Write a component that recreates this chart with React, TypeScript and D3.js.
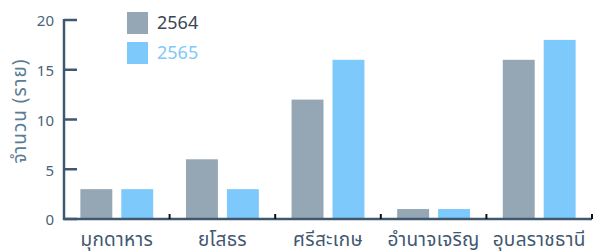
import React, { useEffect, useRef } from 'react';
import * as d3 from 'd3';

const provinces = ['มุกดาหาร', 'ยโสธร', 'ศรีสะเกษ', 'อำนาจเจริญ', 'อุบลราชธานี'];
const years = ['2564', '2565'];
const cases2564 = [3, 6, 12, 1, 16];
const cases2565 = [3, 3, 16, 1, 18];
const yTicks = [0, 5, 10, 15, 20];

const colors = ['#95a6b4', '#7ec9fb'];
const axisColor = '#3f5870';

const App = () => {
  const svgRef = useRef<SVGSVGElement>(null);

  const width = 595;
  const height = 251;
  const margin = { top: 20, right: 3, bottom: 32, left: 64 };

  useEffect(() => {
    const svg = d3.select(svgRef.current);
    svg.selectAll('*').remove();

    const font = '"Noto Sans", "Noto Sans Thai", Roboto, sans-serif';
    const series = [cases2564, cases2565];

    const x0 = d3.scaleBand()
      .domain(provinces)
      .range([margin.left, width - margin.right])
      .paddingInner(0)
      .paddingOuter(0);

    const x1 = d3.scaleBand()
      .domain(years)
      .range([0, x0.bandwidth()])
      .paddingInner(0.22)
      .paddingOuter(0.4);

    const y = d3.scaleLinear()
      .domain([0, 20])
      .range([height - margin.bottom, margin.top]);

    // bars
    provinces.forEach((p, i) => {
      years.forEach((yr, j) => {
        const v = series[j][i];
        svg.append('rect')
          .attr('x', x0(p)! + x1(yr)!)
          .attr('y', y(v))
          .attr('width', x1.bandwidth())
          .attr('height', y(0) - y(v))
          .attr('fill', colors[j]);
      });
    });

    // x axis line
    svg.append('line')
      .attr('x1', margin.left - 1)
      .attr('x2', width - margin.right)
      .attr('y1', y(0))
      .attr('y2', y(0))
      .attr('stroke', axisColor)
      .attr('stroke-width', 2.5);

    // small ticks between categories
    provinces.forEach((p) => {
      const xx = x0(p)! + x0.bandwidth();
      svg.append('line')
        .attr('x1', xx)
        .attr('x2', xx)
        .attr('y1', y(0))
        .attr('y2', y(0) - 5)
        .attr('stroke', '#111')
        .attr('stroke-width', 2);
    });

    // x labels
    svg.append('g')
      .selectAll('text')
      .data(provinces)
      .enter().append('text')
      .attr('x', (d) => x0(d)! + x0.bandwidth() / 2)
      .attr('y', height - 5)
      .attr('text-anchor', 'middle')
      .attr('font-family', font)
      .attr('font-size', 19)
      .attr('letter-spacing', 0.3)
      .attr('fill', axisColor)
      .text((d) => d);

    // y axis
    svg.append('line')
      .attr('x1', margin.left)
      .attr('x2', margin.left)
      .attr('y1', y(20) - 1)
      .attr('y2', y(0) + 1)
      .attr('stroke', axisColor)
      .attr('stroke-width', 2.5);

    yTicks.forEach((t) => {
      svg.append('line')
        .attr('x1', margin.left)
        .attr('x2', margin.left + 13)
        .attr('y1', y(t))
        .attr('y2', y(t))
        .attr('stroke', axisColor)
        .attr('stroke-width', 2.5);
      svg.append('text')
        .attr('x', margin.left - 10)
        .attr('y', y(t) + 1)
        .attr('dy', '0.35em')
        .attr('text-anchor', 'end')
        .attr('font-family', font)
        .attr('font-size', 15)
        .attr('fill', '#4a6378')
        .text(t);
    });

    // y title
    svg.append('text')
      .attr('transform', `translate(26,111) rotate(-90)`)
      .attr('text-anchor', 'middle')
      .attr('font-family', font)
      .attr('font-size', 19)
      .attr('letter-spacing', 1)
      .attr('fill', '#5a7c95')
      .text('จำนวน (ราย)');

    // legend
    const legend = svg.append('g').attr('transform', 'translate(127,12)');
    years.forEach((yr, j) => {
      legend.append('rect')
        .attr('x', 0)
        .attr('y', j * 30)
        .attr('width', 21)
        .attr('height', 22)
        .attr('fill', colors[j]);
      legend.append('text')
        .attr('x', 30)
        .attr('y', j * 30 + 11)
        .attr('dy', '0.35em')
        .attr('font-family', font)
        .attr('font-size', 18)
        .attr('fill', j === 0 ? '#3b4754' : colors[1])
        .text(yr);
    });
  }, []);

  return (
    <div style={{ width: '100%', height: '100%' }}>
      <svg ref={svgRef} width={width} height={height} style={{ position: 'absolute', left: 0, top: 0 }} />
    </div>
  );
};

export default App;
